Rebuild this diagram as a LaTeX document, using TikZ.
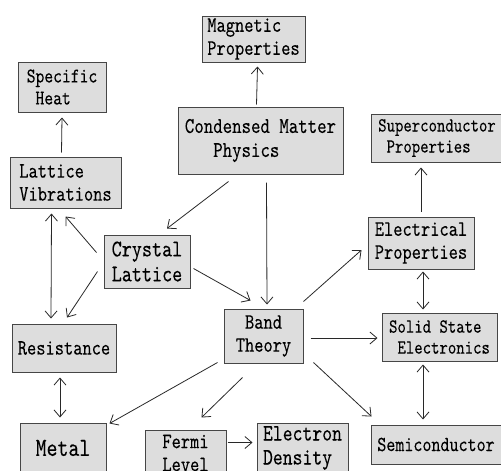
\documentclass[tikz,border=0pt]{standalone}
\usepackage{fontspec}
\setmonofont[FakeStretch=0.8, FakeBold=0.1]{lmmono10-regular.otf}
\usepackage{tikz}
\usetikzlibrary{
  arrows.meta,
  positioning
}
\definecolor{boxfill}{RGB}{221, 221, 221}
\definecolor{boxline}{RGB}{70, 70, 70}
\definecolor{arrowgray}{RGB}{40, 40, 40}
\tikzset{
  fs/.style 2 args = {font=\ttfamily\fontsize{#1}{#2}\selectfont},
  topic/.style 2 args = {
    rectangle, draw=boxline, line width=1pt,
    fill=boxfill, minimum width=#1, minimum height=#2,
    inner sep=0pt, align=left, fs={22}{23}
  },
  arr/.style  = {-{Straight Barb[length=7pt, width=12pt]}, draw=arrowgray, line width=0.8pt},
  dbl/.style  = {{Straight Barb[length=7pt, width=12pt]}-{Straight Barb[length=7pt, width=12pt]},
                 draw=arrowgray, line width=0.8pt},
}

\begin{document}
\begin{tikzpicture}[x=1pt, y=-1pt]

  \path[use as bounding box, fill=white] (0,0) rectangle (501,471);

  \node[topic={103}{46}] (mag)   at (253.5,39)   {Magnetic\\Properties};
  \node[topic={88}{50}, fs={21}{22}] (spec) at (62,87) {Specific\\~Heat};
  \node[topic={165}{67}, fs={22.5}{24}] (cmp) at (260.5,140.5) {Condensed Matter\\~~~Physics};
  \node[topic={132}{48}, fs={20}{21}] (sup) at (437,138) {Superconductor\\~Properties};
  \node[topic={111}{51}] (lv)    at (65.5,182.5) {Lattice\\Vibrations};
  \node[topic={86}{53}, fs={24}{25}] (cl) at (147,261.5) {Crystal\\Lattice};
  \node[topic={106}{52}] (ep)    at (421,243)    {Electrical\\Properties};
  \node[topic={79}{54}, align=center] (bt) at (263.5,336) {Band\\Theory};
  \node[topic={115}{48}, fs={20}{21}] (sse) at (439.5,337) {Solid State\\~Electronics};
  \node[topic={104}{48}] (res)   at (64,348)     {Resistance};
  \node[topic={86}{50}, fs={26}{26}] (metal) at (63,448) {Metal};
  \node[topic={81}{46}] (fermi)  at (185.5,453)  {Fermi\\Level};
  \node[topic={91}{50}, fs={23.5}{24}] (ed) at (302.5,448) {Electron\\Density};
  \node[topic={130}{39}, fs={21.5}{22}] (semi) at (436,444.5) {Semiconductor};

  \draw[arr] ([shift={(-4,-2)}]cmp.north)      -- ([shift={(4,4)}]mag.south);
  \draw[arr] ([shift={(-4,-4)}]lv.north)       -- ([shift={(0,5)}]spec.south);
  \draw[arr] ([shift={(-32,7)}]cmp.south)      -- ([shift={(20,-6)}]cl.north);
  \draw[arr] ([shift={(6,8)}]cmp.south)        -- ([shift={(3.5,-4)}]bt.north);
  \draw[arr] ([shift={(-7,-9)}]cl.west)        -- ([shift={(0,8)}]lv.south);
  \draw[arr] ([shift={(-6,10)}]cl.west)        -- ([shift={(3,-6)}]res.north);
  \draw[dbl] ([shift={(-14,5)}]lv.south)       -- ([shift={(-13,-5)}]res.north);
  \draw[dbl] ([shift={(-4,5)}]res.south)       -- ([shift={(-3,-5)}]metal.north);
  \draw[arr] ([shift={(3,7)}]cl.east)          -- ([shift={(-13,-8)}]bt.north);
  \draw[arr] ([shift={(0,-7)}]bt.north east)   -- ([shift={(-6,7)}]ep.west);
  \draw[arr] ([shift={(7,2)}]bt.east)          -- ([shift={(-4,1)}]sse.west);
  \draw[arr] ([shift={(10,-1)}]bt.south east)  -- ([shift={(1,-8)}]semi.north west);
  \draw[arr] ([shift={(-6,-1)}]bt.south west)  -- ([shift={(3,1)}]metal.north east);
  \draw[arr] ([shift={(-21,14)}]bt.south)      -- ([shift={(16,-12)}]fermi.north);
  \draw[arr] ([shift={(1,13)}]fermi.north east) -- ([shift={(-4,20)}]ed.north west);
  \draw[arr] ([shift={(0,-5)}]ep.north)        -- ([shift={(-16,5)}]sup.south);
  \draw[dbl] ([shift={(2,2)}]ep.south)         -- ([shift={(-16.5,-3)}]sse.north);
  \draw[dbl] ([shift={(-16.5,3)}]sse.south)    -- ([shift={(-13,-5)}]semi.north);

\end{tikzpicture}
\end{document}
